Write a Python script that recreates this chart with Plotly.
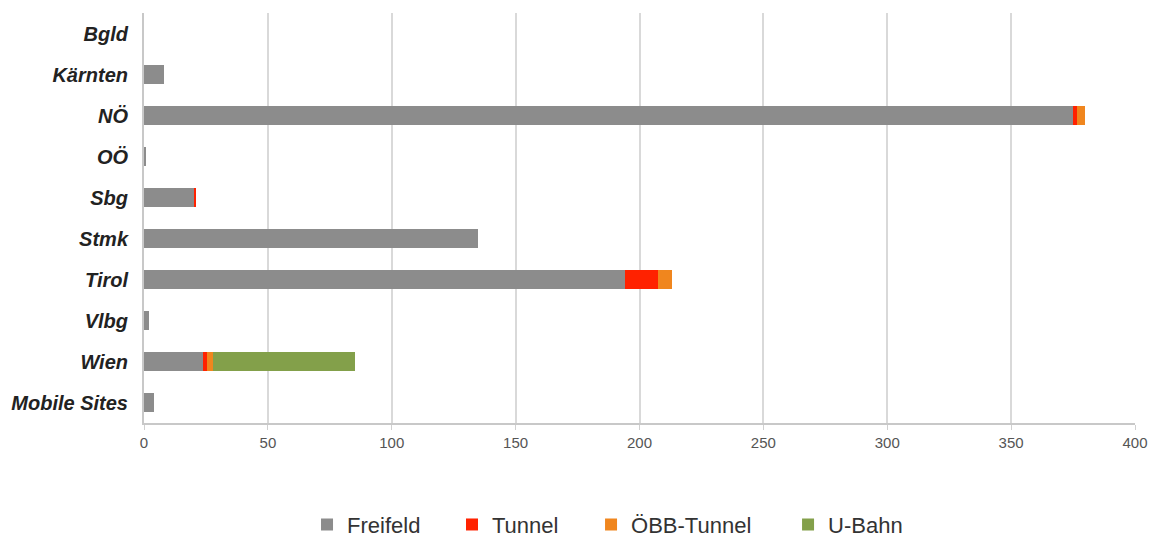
import plotly.graph_objects as go

# Regions (top to bottom) and stacked segment values
regions = ["Bgld", "Kärnten", "NÖ", "OÖ", "Sbg", "Stmk", "Tirol", "Vlbg", "Wien", "Mobile Sites"]
freifeld = [0, 8, 375, 1, 20, 135, 194, 2, 24, 4]
tunnel = [0, 0, 1.5, 0, 1, 0, 13.5, 0, 1.5, 0]
oebb_tunnel = [0, 0, 3.5, 0, 0, 0, 5.5, 0, 2.5, 0]
u_bahn = [0, 0, 0, 0, 0, 0, 0, 0, 57, 0]

x_ticks = [0, 50, 100, 150, 200, 250, 300, 350, 400]

series = [
    ("Freifeld", freifeld, "#8c8c8c"),
    ("Tunnel", tunnel, "#ff2200"),
    ("ÖBB-Tunnel", oebb_tunnel, "#f0861e"),
    ("U-Bahn", u_bahn, "#83a04a"),
]

# one legend box per series so the entries can be spaced freely
legend_ids = ["legend", "legend2", "legend3", "legend4"]
legend_x = [0.1645, 0.3108, 0.4511, 0.6499]

fig = go.Figure()
for (name, vals, color), lid in zip(series, legend_ids):
    fig.add_trace(go.Bar(
        y=regions, x=vals, name=name, orientation="h",
        marker=dict(color=color, line=dict(width=0)),
        hoverinfo="skip", legend=lid,
    ))

legend_style = dict(
    orientation="h", xanchor="left", y=-0.248, yanchor="middle",
    font=dict(family="Liberation Sans, Arial, sans-serif", size=22, color="#333333"),
    bgcolor="rgba(0,0,0,0)", borderwidth=0,
)

layout_legends = {lid: dict(legend_style, x=lx) for lid, lx in zip(legend_ids, legend_x)}

fig.update_layout(
    barmode="stack",
    bargap=0.52,
    width=1151, height=537,
    margin=dict(l=144, r=16, t=13, b=114, autoexpand=False),
    paper_bgcolor="white",
    plot_bgcolor="white",
    font=dict(family="Liberation Sans, Arial, sans-serif", color="#222222"),
    showlegend=True,
    **layout_legends,
)

fig.update_xaxes(
    range=[0, 400], tickvals=x_ticks, ticktext=[str(t) for t in x_ticks],
    showgrid=True, gridcolor="#d9d9d9", gridwidth=2,
    showline=True, linecolor="#c8c8c8", linewidth=2,
    ticks="outside", ticklen=5, tickcolor="#d0d0d0", tickwidth=1,
    tickfont=dict(family="Liberation Sans, Arial, sans-serif", size=15, color="#555555"),
    zeroline=False,
)
fig.update_yaxes(
    categoryorder="array", categoryarray=regions, autorange="reversed",
    showline=True, linecolor="#c8c8c8", linewidth=2,
    ticks="", ticklabelstandoff=10,
    tickfont=dict(family="Liberation Sans, Arial, sans-serif", size=20, color="#222222",
                  weight="bold", style="italic"),
    showgrid=False,
)

fig.write_html("out.html")
